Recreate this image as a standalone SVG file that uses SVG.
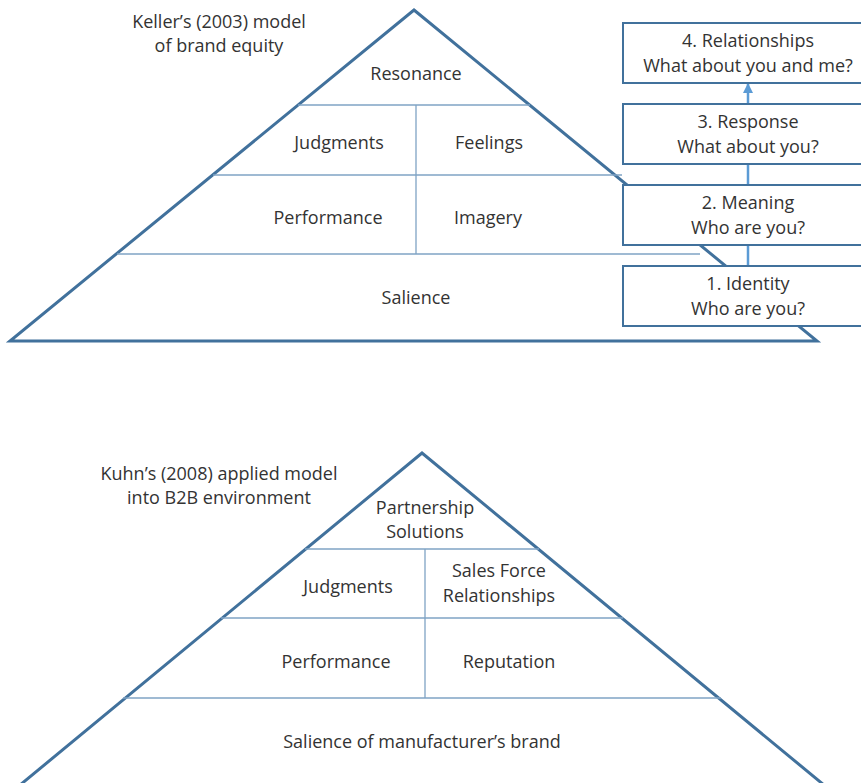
<svg xmlns="http://www.w3.org/2000/svg" width="861" height="783" viewBox="0 0 861 783">
  <defs>
    <style>
      .frame { fill: none; stroke: #41719c; stroke-width: 3; stroke-linejoin: miter; }
      .div { fill: none; stroke: #7fa3c4; stroke-width: 1.3; }
      .box { fill: #ffffff; stroke: #41719c; stroke-width: 2; }
      .link { fill: none; stroke: #5b9bd5; stroke-width: 2.5; }
      text { font-family: "Open Sans", "Liberation Sans", sans-serif; font-size: 18px; fill: #333333; text-anchor: middle; }
    </style>
    <marker id="arrow" viewBox="0 0 10 10" refX="9" refY="5" markerWidth="4" markerHeight="4" orient="auto">
      <path d="M0,0 L10,5 L0,10 z" fill="#5b9bd5"/>
    </marker>
  </defs>
  <rect width="861" height="783" fill="#ffffff"/>

  <!-- Keller pyramid -->
  <g id="keller-pyramid">
    <polygon class="frame" points="414,10 817,341 10,341"/>
    <line class="div" x1="298" y1="105" x2="530" y2="105"/>
    <line class="div" x1="213" y1="175" x2="622" y2="175"/>
    <line class="div" x1="117" y1="254" x2="700" y2="254"/>
    <line class="div" x1="416" y1="105" x2="416" y2="254"/>
  </g>
  <g id="keller-title">
    <text x="219" y="28">Keller’s (2003) model</text>
    <text x="219" y="52">of brand equity</text>
  </g>
  <g id="resonance"><text x="416" y="80">Resonance</text></g>
  <g id="judgments"><text x="339" y="149">Judgments</text></g>
  <g id="feelings"><text x="489" y="149">Feelings</text></g>
  <g id="performance"><text x="328" y="224">Performance</text></g>
  <g id="imagery"><text x="488" y="224">Imagery</text></g>
  <g id="salience"><text x="416" y="304">Salience</text></g>

  <!-- Brand-building steps -->
  <g id="connectors">
    <line class="link" x1="748" y1="265" x2="748" y2="245"/>
    <line class="link" x1="748" y1="184" x2="748" y2="164"/>
    <line class="link" x1="748" y1="103" x2="748" y2="84" marker-end="url(#arrow)"/>
  </g>
  <g id="step-4">
    <rect class="box" x="623" y="23" width="250" height="60"/>
    <text x="748" y="47">4. Relationships</text>
    <text x="748" y="72">What about you and me?</text>
  </g>
  <g id="step-3">
    <rect class="box" x="623" y="104" width="250" height="60"/>
    <text x="748" y="128">3. Response</text>
    <text x="748" y="153">What about you?</text>
  </g>
  <g id="step-2">
    <rect class="box" x="623" y="185" width="250" height="60"/>
    <text x="748" y="209">2. Meaning</text>
    <text x="748" y="234">Who are you?</text>
  </g>
  <g id="step-1">
    <rect class="box" x="623" y="266" width="250" height="60"/>
    <text x="748" y="290">1. Identity</text>
    <text x="748" y="315">Who are you?</text>
  </g>

  <!-- Kuhn pyramid -->
  <g id="kuhn-pyramid">
    <polyline class="frame" points="14,790 422,453 830,790"/>
    <line class="div" x1="305" y1="549" x2="539" y2="549"/>
    <line class="div" x1="221" y1="618" x2="623" y2="618"/>
    <line class="div" x1="123" y1="698" x2="721" y2="698"/>
    <line class="div" x1="425" y1="549" x2="425" y2="698"/>
  </g>
  <g id="kuhn-title">
    <text x="219" y="480">Kuhn’s (2008) applied model</text>
    <text x="219" y="504">into B2B environment</text>
  </g>
  <g id="partnership">
    <text x="425" y="514">Partnership</text>
    <text x="425" y="538">Solutions</text>
  </g>
  <g id="b2b-judgments"><text x="348" y="593">Judgments</text></g>
  <g id="sales-force">
    <text x="499" y="577">Sales Force</text>
    <text x="499" y="602">Relationships</text>
  </g>
  <g id="b2b-performance"><text x="336" y="668">Performance</text></g>
  <g id="reputation"><text x="509" y="668">Reputation</text></g>
  <g id="b2b-salience"><text x="422" y="748">Salience of manufacturer’s brand</text></g>
</svg>
